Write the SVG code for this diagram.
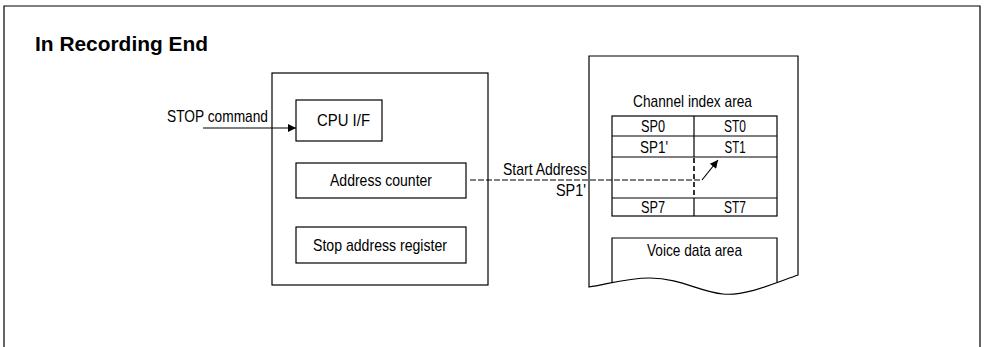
<svg xmlns="http://www.w3.org/2000/svg" width="985" height="347" viewBox="0 0 985 347">
<style>
.box{fill:none;stroke:#000;stroke-width:1.2}
.t{font-family:"Liberation Sans",Arial,sans-serif;font-size:17px;fill:#000}
.c{text-anchor:middle}
.title{font-family:"Liberation Sans",Arial,sans-serif;font-size:21px;font-weight:bold;fill:#000}
.ln{fill:none;stroke:#000;stroke-width:1.2}
.dash{fill:none;stroke:#000;stroke-width:1;stroke-dasharray:6 2}
</style>
<defs>
<marker id="ah" viewBox="0 0 10 10" refX="10" refY="5" markerWidth="10" markerHeight="8" markerUnits="userSpaceOnUse" orient="auto">
<path d="M0,0 L10,5 L0,10 Z" fill="#000"/>
</marker>
</defs>
<rect width="985" height="347" fill="#fff"/>
<g id="frame">
<path class="box" d="M4,350 V6 H980 V350"/>
<text class="title" x="35" y="51" textLength="173" lengthAdjust="spacingAndGlyphs">In Recording End</text>
</g>
<g id="controller">
<rect class="box" x="272" y="73" width="216" height="212"/>
<g id="cpu-if">
<rect class="box" x="296" y="100" width="86" height="41"/>
<text class="t" x="317" y="126" textLength="53" lengthAdjust="spacingAndGlyphs">CPU I/F</text>
</g>
<g id="address-counter">
<rect class="box" x="296" y="163" width="170" height="35"/>
<text class="t" x="330" y="186" textLength="102" lengthAdjust="spacingAndGlyphs">Address counter</text>
</g>
<g id="stop-address-register">
<rect class="box" x="296" y="227" width="170" height="36"/>
<text class="t" x="313" y="251" textLength="134" lengthAdjust="spacingAndGlyphs">Stop address register</text>
</g>
</g>
<g id="memory">
<path class="box" d="M589,287 V56 H798 V275 C770,285 745,296 723,294 C700,292 680,278 650,278 C625,278 605,285 589,287 Z"/>
<text class="t" x="633" y="107" textLength="119" lengthAdjust="spacingAndGlyphs">Channel index area</text>
<g id="channel-index-table">
<rect class="box" x="612" y="116" width="165" height="100"/>
<path class="ln" d="M612,136 H777 M612,157 H777 M612,198 H777 M694,116 V157 M694,198 V216"/>
<path fill="none" stroke="#000" stroke-width="1.6" stroke-dasharray="5 3" d="M694,158 V198"/>
<text class="t c" x="653" y="132" textLength="24" lengthAdjust="spacingAndGlyphs">SP0</text>
<text class="t c" x="735" y="132" textLength="22" lengthAdjust="spacingAndGlyphs">ST0</text>
<text class="t c" x="654" y="153" textLength="28" lengthAdjust="spacingAndGlyphs">SP1'</text>
<text class="t c" x="735" y="153" textLength="21" lengthAdjust="spacingAndGlyphs">ST1</text>
<text class="t c" x="653" y="213" textLength="24" lengthAdjust="spacingAndGlyphs">SP7</text>
<text class="t c" x="735" y="213" textLength="22" lengthAdjust="spacingAndGlyphs">ST7</text>
</g>
<g id="voice-data-area">
<path class="ln" d="M612,283 V238 H777 V282"/>
<text class="t" x="647" y="256" textLength="95" lengthAdjust="spacingAndGlyphs">Voice data area</text>
</g>
</g>
<g id="connectors">
<line class="ln" x1="203" y1="128" x2="296" y2="128" marker-end="url(#ah)"/>
<text class="t" x="167" y="122" textLength="101" lengthAdjust="spacingAndGlyphs">STOP command</text>
<path class="dash" d="M470,180 H702"/>
<line class="ln" x1="702" y1="180" x2="718" y2="160" marker-end="url(#ah)"/>
<text class="t" x="503" y="175" textLength="84" lengthAdjust="spacingAndGlyphs">Start Address</text>
<text class="t" text-anchor="end" x="586" y="196" textLength="30" lengthAdjust="spacingAndGlyphs">SP1'</text>
</g>
</svg>
